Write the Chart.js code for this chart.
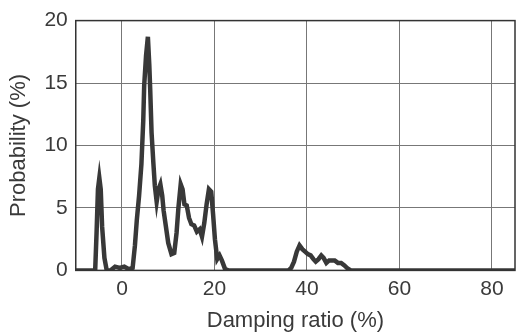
<!DOCTYPE html>
<html>
<head>
<meta charset="utf-8">
<script src="https://cdn.jsdelivr.net/npm/chart.js@4"></script>
<style>
  html, body { margin: 0; padding: 0; background: #fff; }
  #wrap { width: 517px; height: 335px; }
</style>
</head>
<body>
<div id="wrap"><canvas id="dampChart" width="517" height="335"></canvas></div>
<script>
// damping ratio (%) and probability (%)
const dampingRatio = [-10, -5.8, -5.5, -5.2, -4.9, -4.6, -4.3, -3.8, -3.3, -2.5, -1.5, -0.5, 0.5, 1.5, 2.3, 2.8, 3.2, 3.7, 4.2, 4.6, 4.8, 5.2, 5.6, 5.9, 6.1, 6.4, 6.8, 7.1, 7.5, 7.9, 8.3, 8.7, 9.0, 9.5, 10.0, 10.7, 11.3, 11.8, 12.2, 12.7, 13.1, 13.5, 14.0, 14.5, 15.0, 15.6, 16.2, 16.8, 17.3, 17.8, 18.3, 18.8, 19.3, 19.7, 20.1, 20.6, 21.1, 21.6, 22.3, 23, 36, 36.6, 37.2, 37.8, 38.4, 39.0, 39.6, 40.2, 40.8, 41.4, 41.9, 42.5, 43.1, 43.6, 44.2, 44.8, 45.4, 46.0, 46.7, 47.4, 48.1, 48.8, 49.5, 85];
const probability = [0, 0, 3, 6.5, 7.4, 6.5, 3.5, 1, 0, 0, 0.3, 0.2, 0.3, 0.1, 0.2, 2, 4, 6, 8.5, 12, 14.8, 17.2, 18.7, 16.5, 14.5, 11, 8.5, 6.8, 5.5, 6.5, 6.9, 6, 4.8, 3.5, 2.2, 1.3, 1.4, 3, 5, 6.9, 6.5, 5.3, 5.2, 4.2, 3.7, 3.6, 3.1, 3.3, 2.7, 3.8, 5.3, 6.5, 6.3, 4.5, 2.5, 0.9, 1.2, 0.8, 0.1, 0, 0, 0.2, 0.7, 1.5, 2.0, 1.7, 1.5, 1.3, 1.2, 0.9, 0.7, 0.9, 1.2, 1.0, 0.6, 0.8, 0.8, 0.8, 0.6, 0.6, 0.4, 0.15, 0, 0];
const xTicks = [0, 20, 40, 60, 80];
const yTicks = [0, 5, 10, 15, 20];

const points = dampingRatio.map((x, i) => ({ x: x, y: probability[i] }));

// draws the closed frame round the plot area
const frameBox = {
    id: 'frameBox',
    afterDraw(chart) {
        const a = chart.chartArea;
        const c = chart.ctx;
        c.save();
        c.strokeStyle = '#333';
        c.lineWidth = 1.5;
        c.strokeRect(a.left, a.top, a.right - a.left, a.bottom - a.top);
        c.restore();
    }
};

const ctx = document.getElementById('dampChart').getContext('2d');
const dampChart = new Chart(ctx, {
    type: 'line',
    data: {
        datasets: [{
            label: 'Probability',
            data: points,
            borderColor: '#383838',
            borderWidth: 4.5,
            pointRadius: 0,
            tension: 0,
            fill: false
        }]
    },
    options: {
        responsive: false,
        animation: false,
        layout: { padding: { left: 4, right: 2, top: 4, bottom: 1 } },
        plugins: { legend: { display: false }, tooltip: { enabled: false } },
        scales: {
            x: {
                type: 'linear',
                min: -10,
                max: 85,
                afterBuildTicks: axis => { axis.ticks = xTicks.map(v => ({ value: v })); },
                grid: { color: '#777', lineWidth: 1, drawTicks: false },
                border: { display: false },
                ticks: { color: '#3a3a3a', font: { family: 'Liberation Sans', size: 21 }, padding: 6 },
                title: {
                    display: true,
                    text: 'Damping ratio (%)',
                    color: '#3a3a3a',
                    font: { family: 'Liberation Sans', size: 22 },
                    padding: { top: 0, bottom: 0 }
                }
            },
            y: {
                min: 0,
                max: 20,
                afterBuildTicks: axis => { axis.ticks = yTicks.map(v => ({ value: v })); },
                grid: { color: '#777', lineWidth: 1, drawTicks: false },
                border: { display: false },
                ticks: { color: '#3a3a3a', font: { family: 'Liberation Sans', size: 21 }, padding: 8 },
                title: {
                    display: true,
                    text: 'Probability (%)',
                    color: '#3a3a3a',
                    font: { family: 'Liberation Sans', size: 22 },
                    padding: { top: 2, bottom: 4 }
                }
            }
        }
    },
    plugins: [frameBox]
});
</script>
</body>
</html>
